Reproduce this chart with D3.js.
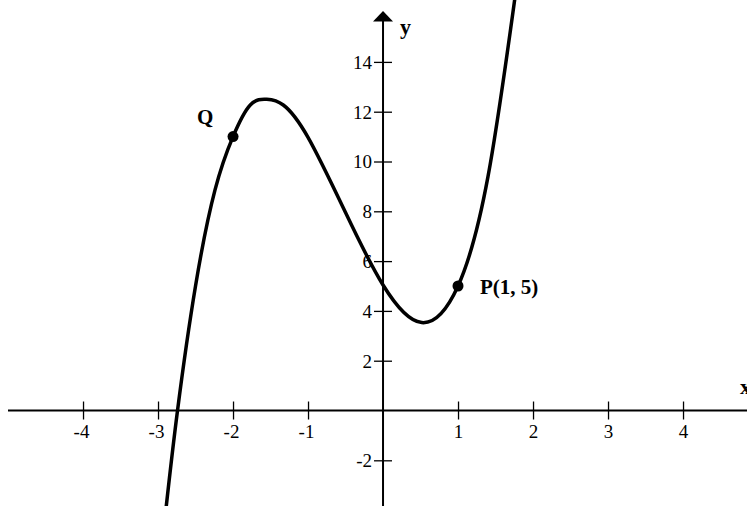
<!DOCTYPE html>
<html>
<head>
<meta charset="utf-8">
<script src="https://cdn.jsdelivr.net/npm/d3@7"></script>
<style>
  html, body { margin: 0; padding: 0; background: #fff; }
  svg { display: block; }
  text { font-family: "Liberation Serif", "Times New Roman", serif; fill: #000; }
</style>
</head>
<body>
<script>
// Curve samples (x, y) along the cubic
const curveX = [-2.89, -2.74, -2.5, -2.24, -2.0, -1.77, -1.55, -1.33, -1.0, -0.5, 0, 0.516, 1.0, 1.4, 1.76];
const curveY = [-3.84, 0, 5.0, 8.86, 11.0, 12.27, 12.5, 12.27, 10.97, 7.95, 5.04, 3.53, 5.0, 9.4, 16.6];

// Marked points
const pointNames = ["Q", "P(1, 5)"];
const pointX = [-2, 1];
const pointY = [11, 5];

// Tick values
const xTicks = [-4, -3, -2, -1, 1, 2, 3, 4];
const yTicks = [-2, 2, 4, 6, 8, 10, 12, 14];

const W = 747, H = 506;
const x = d3.scaleLinear().domain([-5.107, 4.853]).range([0, W]);
const y = d3.scaleLinear().domain([-3.835, 16.486]).range([H, 0]);

const svg = d3.select("body").append("svg").attr("width", W).attr("height", H);

svg.append("defs").append("clipPath").attr("id", "plot")
  .append("rect").attr("x", 0).attr("y", 0).attr("width", W).attr("height", H);

// x axis: line plus crossing ticks
const x0 = x(0), y0 = y(0);
svg.append("line").attr("x1", 8).attr("x2", W).attr("y1", y0).attr("y2", y0)
  .attr("stroke", "#000").attr("stroke-width", 2);

const xAxis = svg.append("g").attr("transform", `translate(0,${y0})`)
  .call(d3.axisBottom(x).tickValues(xTicks).tickSize(9).tickFormat(d => String(d)));
xAxis.select(".domain").remove();
xAxis.selectAll(".tick line").attr("y1", -9).attr("y2", 9).attr("stroke", "#000").attr("stroke-width", 1.3);
xAxis.selectAll(".tick text").attr("y", 27).attr("dy", 0)
  .attr("dx", d => d < 0 ? -2 : 0)
  .style("font-family", "'Liberation Serif', serif").style("font-size", "19px").attr("fill", "#000");

// y axis: line, arrow head and crossing ticks
svg.append("line").attr("x1", x0).attr("x2", x0).attr("y1", 20).attr("y2", H)
  .attr("stroke", "#000").attr("stroke-width", 2);
svg.append("path")
  .attr("d", `M${x0},11 L${x0 + 10},21.5 L${x0 - 10},21.5 Z`)
  .attr("fill", "#000");

const yAxis = svg.append("g").attr("transform", `translate(${x0},0)`)
  .call(d3.axisLeft(y).tickValues(yTicks).tickSize(9).tickFormat(d => String(d)));
yAxis.select(".domain").remove();
yAxis.selectAll(".tick line").attr("x1", -9).attr("x2", 9).attr("stroke", "#000").attr("stroke-width", 1.3);
yAxis.selectAll(".tick text").attr("x", -11).attr("dy", "0.34em")
  .style("font-family", "'Liberation Serif', serif").style("font-size", "19px").attr("fill", "#000");

// axis names
svg.append("text").attr("x", 400).attr("y", 34).text("y")
  .style("font-size", "22px").style("font-weight", "bold");
svg.append("text").attr("x", 740).attr("y", 394).text("x")
  .style("font-size", "22px").style("font-weight", "bold");

// the curve
const pts = curveX.map((d, i) => [d, curveY[i]]);
svg.append("path")
  .datum(pts)
  .attr("clip-path", "url(#plot)")
  .attr("fill", "none").attr("stroke", "#000").attr("stroke-width", 3.5)
  .attr("stroke-linejoin", "round")
  .attr("d", d3.line().x(d => x(d[0])).y(d => y(d[1])).curve(d3.curveNatural));

// marked points and their labels
svg.selectAll("circle.pt").data(pointX).join("circle")
  .attr("class", "pt")
  .attr("cx", d => x(d)).attr("cy", (d, i) => y(pointY[i]))
  .attr("r", 5.5).attr("fill", "#000");

svg.append("text").attr("x", x(pointX[0]) - 36).attr("y", y(pointY[0]) - 13)
  .text(pointNames[0]).style("font-size", "21px").style("font-weight", "bold");
svg.append("text").attr("x", x(pointX[1]) + 22).attr("y", y(pointY[1]) + 8)
  .text(pointNames[1]).style("font-size", "21px").style("font-weight", "bold");
</script>
</body>
</html>
